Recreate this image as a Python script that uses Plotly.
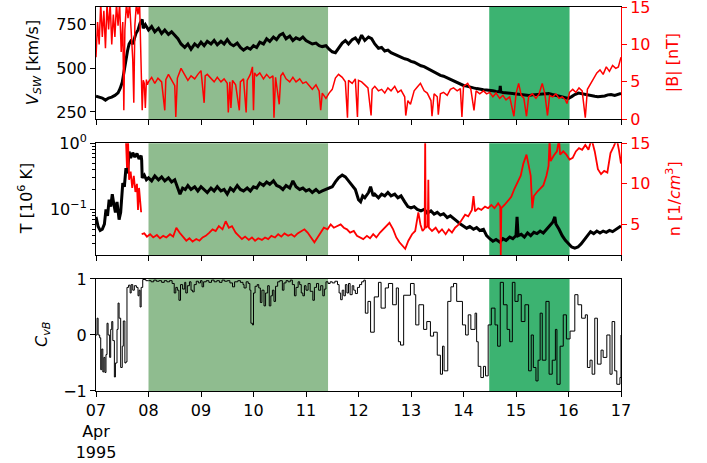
import pandas as pd
import plotly.graph_objects as go

# ---------------- data (day offset from 1995-04-07 00:00, value) ----------------
V_sw = [
(0.00,340),(0.06,335),(0.12,330),(0.18,318),(0.24,330),(0.30,335),(0.36,345),(0.42,360),(0.46,385),
(0.50,420),(0.53,480),(0.56,540),(0.60,600),(0.63,640),(0.66,655),(0.70,640),(0.73,665),(0.76,700),
(0.80,720),(0.84,760),(0.88,780),(0.90,730),(0.94,750),(1.00,720),(1.06,740),(1.12,710),(1.19,730),
(1.25,700),(1.31,720),(1.38,695),(1.44,710),(1.50,690),(1.56,670),(1.62,640),(1.69,620),(1.75,640),
(1.81,610),(1.88,640),(1.94,625),(2.00,650),(2.06,630),(2.12,655),(2.19,640),(2.25,660),(2.31,635),
(2.38,655),(2.44,640),(2.50,665),(2.56,640),(2.62,630),(2.69,645),(2.75,620),(2.81,605),(2.88,620),
(2.94,610),(3.00,630),(3.06,620),(3.12,650),(3.19,640),(3.25,670),(3.31,655),(3.38,680),(3.44,665),
(3.50,690),(3.56,700),(3.62,670),(3.69,685),(3.75,660),(3.81,675),(3.88,665),(3.94,680),(4.00,660),
(4.06,650),(4.12,640),(4.19,645),(4.25,630),(4.31,625),(4.38,630),(4.44,610),(4.50,595),(4.56,590),
(4.62,615),(4.69,645),(4.75,660),(4.81,640),(4.88,665),(4.94,675),(5.00,650),(5.06,690),(5.12,660),
(5.19,680),(5.25,670),(5.31,640),(5.38,615),(5.44,620),(5.50,600),(5.56,605),(5.62,590),(5.69,580),
(5.75,570),(5.81,565),(5.88,555),(5.94,550),(6.00,540),(6.06,535),(6.12,525),(6.19,515),(6.25,510),
(6.31,500),(6.38,490),(6.44,480),(6.50,470),(6.56,460),(6.62,455),(6.69,445),(6.75,435),(6.81,425),
(6.88,415),(6.94,410),(7.00,402),(7.06,398),(7.12,392),(7.19,388),(7.25,384),(7.31,380),(7.38,377),
(7.44,376),(7.50,376),(7.56,372),(7.62,368),(7.69,365),(7.70,400),(7.71,365),(7.75,362),(7.81,360),
(7.88,356),(7.94,352),(8.00,350),(8.06,348),(8.12,346),(8.19,346),(8.25,345),(8.31,348),(8.38,350),
(8.44,350),(8.50,352),(8.56,352),(8.62,356),(8.69,350),(8.75,345),(8.81,340),(8.88,335),(8.94,330),
(9.00,328),(9.06,338),(9.12,350),(9.19,358),(9.25,354),(9.31,350),(9.38,346),(9.44,342),(9.50,340),
(9.56,338),(9.62,338),(9.69,342),(9.75,348),(9.81,350),(9.88,345),(9.94,352),(10.0,356)]

B_mag = [
(0.00,8.3),(0.03,13),(0.06,10),(0.09,15.5),(0.12,11),(0.15,14.5),(0.18,9.5),(0.21,15.5),(0.24,12),
(0.27,15.5),(0.30,10),(0.33,14),(0.36,11),(0.39,15.5),(0.42,12.5),(0.45,15.5),(0.48,9),(0.51,13),
(0.53,1.2),(0.55,12),(0.58,15.5),(0.61,13.5),(0.64,15.5),(0.67,11),(0.70,8),(0.72,2.2),(0.74,12.5),
(0.77,15.5),(0.80,14),(0.83,15.5),(0.85,10),(0.87,5.5),(0.88,1.2),(0.90,5.2),(0.92,4.8),(0.94,1.5),
(0.96,5.3),(0.98,4.6),(1.00,5.0),(1.06,5.6),(1.12,4.8),(1.18,5.5),(1.25,5.0),(1.31,1.2),(1.33,5.3),
(1.38,6.0),(1.44,5.2),(1.50,4.5),(1.52,0.3),(1.55,5.5),(1.62,6.8),(1.68,6.0),(1.75,5.2),(1.81,5.8),
(1.88,5.4),(1.94,6.0),(2.00,6.5),(2.06,2.2),(2.08,5.8),(2.12,6.0),(2.19,5.4),(2.25,5.0),(2.31,5.6),
(2.38,5.0),(2.44,5.4),(2.50,4.8),(2.52,0.9),(2.55,5.0),(2.57,1.5),(2.60,5.2),(2.66,4.6),(2.73,1.2),
(2.75,5.0),(2.81,5.4),(2.86,0.9),(2.88,5.2),(2.94,6.0),(2.98,7.0),(3.00,1.2),(3.02,6.2),(3.06,5.8),
(3.12,6.2),(3.19,5.4),(3.25,6.0),(3.31,5.5),(3.37,5.8),(3.39,0.2),(3.42,5.6),(3.49,2.0),(3.52,5.8),
(3.56,6.2),(3.62,5.4),(3.69,5.0),(3.75,5.6),(3.81,5.0),(3.88,5.4),(3.94,4.8),(4.00,5.0),(4.06,4.5),
(4.12,4.0),(4.19,4.6),(4.25,3.8),(4.28,1.2),(4.31,3.5),(4.38,2.8),(4.44,3.5),(4.50,4.0),(4.56,5.5),
(4.62,6.0),(4.69,5.6),(4.75,5.0),(4.79,0.2),(4.81,5.2),(4.88,4.8),(4.94,5.4),(4.98,0.3),(5.00,5.2),
(5.06,5.0),(5.12,4.6),(5.18,4.2),(5.24,0.5),(5.26,4.0),(5.31,4.4),(5.38,3.8),(5.44,4.0),(5.50,3.5),
(5.56,4.2),(5.62,3.8),(5.69,4.4),(5.75,3.6),(5.81,3.9),(5.88,3.0),(5.90,0.5),(5.94,2.5),(5.99,2.0),
(6.06,3.8),(6.12,4.3),(6.18,4.8),(6.25,3.8),(6.31,3.5),(6.38,2.5),(6.40,0.4),(6.44,3.4),(6.50,3.0),
(6.52,0.6),(6.56,3.4),(6.62,3.6),(6.69,3.2),(6.75,4.0),(6.81,4.2),(6.88,3.8),(6.94,4.1),(6.97,0.3),
(7.00,4.4),(7.08,4.8),(7.14,4.0),(7.20,1.2),(7.24,3.8),(7.31,3.4),(7.38,3.8),(7.44,3.4),(7.50,3.6),
(7.56,3.0),(7.62,3.5),(7.69,2.8),(7.75,3.2),(7.81,2.6),(7.88,3.0),(7.96,0.4),(8.00,3.4),(8.05,4.8),
(8.10,3.2),(8.15,2.8),(8.20,0.4),(8.24,3.0),(8.31,3.4),(8.38,2.8),(8.44,3.4),(8.50,4.8),(8.55,3.4),
(8.60,0.5),(8.64,3.2),(8.70,3.0),(8.76,3.4),(8.82,2.8),(8.88,3.0),(8.94,2.6),(8.97,2.1),(9.02,3.6),
(9.08,4.0),(9.14,3.6),(9.20,4.2),(9.26,3.8),(9.32,0.2),(9.36,4.0),(9.42,4.8),(9.48,5.6),(9.54,6.2),
(9.60,6.6),(9.66,6.0),(9.72,7.0),(9.78,6.4),(9.84,7.2),(9.90,6.8),(9.95,7.0),(10.0,8.3)]

T_p = [
(0.00,0.077),(0.04,0.055),(0.08,0.048),(0.12,0.05),(0.16,0.06),(0.19,0.1),(0.22,0.08),(0.25,0.14),
(0.28,0.11),(0.31,0.17),(0.34,0.12),(0.37,0.09),(0.40,0.13),(0.44,0.07),(0.47,0.09),(0.51,0.25),
(0.54,0.22),(0.57,0.42),(0.60,0.35),(0.63,0.75),(0.66,0.6),(0.70,0.72),(0.74,0.62),(0.78,0.7),
(0.82,0.58),(0.86,0.65),(0.87,0.55),(0.88,0.3),(0.92,0.33),(0.96,0.28),(1.00,0.3),(1.06,0.27),
(1.12,0.32),(1.19,0.28),(1.25,0.31),(1.31,0.27),(1.38,0.3),(1.44,0.26),(1.50,0.28),(1.56,0.2),
(1.60,0.17),(1.65,0.21),(1.70,0.2),(1.75,0.23),(1.81,0.2),(1.88,0.22),(1.94,0.19),(2.00,0.22),
(2.06,0.2),(2.12,0.18),(2.19,0.21),(2.25,0.19),(2.31,0.22),(2.38,0.19),(2.44,0.2),(2.50,0.17),
(2.56,0.21),(2.62,0.19),(2.69,0.23),(2.75,0.2),(2.81,0.19),(2.88,0.21),(2.94,0.19),(3.00,0.22),
(3.06,0.21),(3.12,0.25),(3.19,0.23),(3.25,0.26),(3.31,0.24),(3.38,0.27),(3.44,0.23),(3.50,0.22),
(3.56,0.2),(3.62,0.23),(3.69,0.21),(3.75,0.27),(3.81,0.22),(3.88,0.2),(3.94,0.21),(4.00,0.19),
(4.06,0.2),(4.12,0.18),(4.19,0.2),(4.25,0.18),(4.31,0.19),(4.38,0.2),(4.44,0.21),(4.50,0.22),
(4.56,0.26),(4.62,0.3),(4.69,0.33),(4.75,0.31),(4.81,0.27),(4.88,0.23),(4.94,0.2),(5.00,0.14),
(5.04,0.13),(5.08,0.16),(5.12,0.15),(5.19,0.18),(5.23,0.22),(5.28,0.16),(5.31,0.17),(5.38,0.15),
(5.44,0.17),(5.50,0.16),(5.56,0.18),(5.62,0.16),(5.69,0.17),(5.75,0.15),(5.81,0.16),(5.88,0.13),
(5.94,0.11),(6.00,0.105),(6.06,0.11),(6.12,0.1),(6.19,0.095),(6.25,0.1),(6.31,0.088),(6.38,0.095),
(6.44,0.085),(6.50,0.09),(6.56,0.082),(6.62,0.086),(6.69,0.075),(6.75,0.08),(6.81,0.072),(6.88,0.066),
(6.94,0.06),(7.00,0.055),(7.06,0.052),(7.12,0.055),(7.19,0.05),(7.25,0.053),(7.31,0.048),(7.38,0.05),
(7.44,0.04),(7.50,0.036),(7.56,0.033),(7.62,0.035),(7.69,0.032),(7.75,0.036),(7.81,0.034),(7.88,0.038),
(7.94,0.036),(8.00,0.04),(8.02,0.077),(8.04,0.04),(8.10,0.042),(8.16,0.038),(8.22,0.044),(8.28,0.04),
(8.34,0.045),(8.40,0.043),(8.46,0.047),(8.52,0.044),(8.58,0.05),(8.64,0.058),(8.70,0.064),(8.74,0.077),
(8.76,0.06),(8.82,0.05),(8.88,0.04),(8.94,0.034),(9.00,0.03),(9.06,0.027),(9.12,0.026),(9.18,0.027),
(9.24,0.03),(9.30,0.035),(9.36,0.04),(9.42,0.046),(9.48,0.043),(9.54,0.047),(9.60,0.044),(9.66,0.047),
(9.72,0.045),(9.78,0.048),(9.84,0.046),(9.90,0.05),(9.96,0.054),(10.0,0.056)]

n_p = [
(0.57,15.5),(0.59,12),(0.61,15.5),(0.63,10.5),(0.66,11.5),(0.69,9.5),(0.72,11),(0.75,9),(0.78,10),
(0.80,6.8),(0.82,9.5),(0.84,8),(0.86,6.5),(0.865,None),
(0.87,3.8),(0.92,3.9),(0.97,3.5),(1.03,3.8),(1.09,3.4),(1.16,3.7),(1.22,3.3),(1.28,3.6),(1.34,3.4),
(1.41,3.8),(1.47,3.5),(1.53,4.6),(1.59,4.0),(1.66,3.4),(1.72,3.0),(1.78,3.3),(1.84,2.9),(1.91,3.2),
(1.97,3.0),(2.03,3.4),(2.09,3.6),(2.16,4.0),(2.22,4.4),(2.28,4.2),(2.34,4.8),(2.41,4.4),(2.47,5.4),
(2.53,4.6),(2.59,4.8),(2.66,4.0),(2.72,3.6),(2.78,3.2),(2.84,3.5),(2.91,3.1),(2.97,3.4),(3.03,3.0),
(3.09,3.3),(3.16,3.1),(3.22,3.4),(3.28,3.2),(3.34,3.6),(3.41,3.4),(3.47,3.8),(3.53,3.5),(3.59,3.9),
(3.66,3.6),(3.72,3.8),(3.78,3.5),(3.84,3.9),(3.91,4.2),(3.97,4.4),(4.03,4.0),(4.09,3.4),(4.16,2.8),
(4.22,3.4),(4.28,4.0),(4.34,4.6),(4.41,4.4),(4.47,5.0),(4.53,4.6),(4.59,4.8),(4.66,5.0),(4.72,4.6),
(4.78,4.4),(4.84,4.0),(4.91,4.2),(4.97,3.6),(5.03,3.4),(5.09,3.2),(5.16,3.6),(5.22,3.3),(5.28,3.8),
(5.34,3.4),(5.41,4.0),(5.47,4.4),(5.53,4.8),(5.59,5.2),(5.66,4.4),(5.72,3.4),(5.78,2.8),(5.84,2.3),
(5.89,2.0),(5.95,3.0),(6.02,3.8),(6.08,4.2),(6.14,6.5),(6.18,5.0),(6.22,4.2),(6.26,4.5),(6.27,15.5),
(6.28,4.6),(6.32,4.8),(6.33,10.5),(6.34,4.6),(6.40,4.2),(6.47,4.6),(6.53,4.0),(6.59,4.4),(6.66,3.8),
(6.72,4.4),(6.78,4.0),(6.84,4.6),(6.91,5.0),(6.97,5.6),(7.03,6.2),(7.09,6.0),(7.16,6.8),(7.19,8.5),
(7.22,6.6),(7.28,7.0),(7.34,6.8),(7.41,7.2),(7.47,7.0),(7.53,7.4),(7.59,7.0),(7.66,7.6),(7.70,7.2),
(7.71,1.2),(7.72,7.0),(7.78,7.4),(7.84,7.8),(7.91,8.4),(7.97,9.4),(8.03,10.2),(8.09,11.0),(8.14,12.5),
(8.20,13.6),(8.25,12.0),(8.28,11.0),(8.31,7.0),(8.34,8.5),(8.40,9.0),(8.46,9.4),(8.52,9.8),(8.58,11.0),
(8.62,12.2),(8.64,15.5),(8.66,12.8),(8.72,13.5),(8.78,14.0),(8.82,15.5),(8.84,13.6),(8.90,14.0),
(8.96,13.6),(9.02,13.0),(9.08,13.2),(9.14,14.0),(9.20,14.4),(9.26,14.2),(9.32,14.8),(9.38,14.2),
(9.44,15.5),(9.50,14.0),(9.56,11.8),(9.62,11.2),(9.68,11.6),(9.74,11.4),(9.80,13.8),(9.86,14.6),
(9.92,15.5),(9.96,14.2),(10.0,12.5)]

C_vB = [
(0.00,0.0),(0.02,0.3),(0.04,0.0),(0.07,-0.05),(0.09,-0.62),(0.11,-0.25),(0.13,-0.66),(0.15,-0.4),
(0.17,-0.67),(0.19,-0.35),(0.21,0.21),(0.23,0.0),(0.26,-0.4),(0.28,0.1),(0.30,0.24),(0.32,-0.1),
(0.35,-0.75),(0.37,-0.5),(0.40,0.1),(0.42,0.57),(0.44,0.3),(0.47,-0.58),(0.50,-0.2),(0.52,0.25),
(0.55,-0.5),(0.57,-0.48),(0.59,0.85),(0.62,0.89),(0.65,0.75),(0.67,0.9),(0.70,0.8),(0.73,0.88),
(0.77,0.85),(0.80,0.7),(0.82,0.8),(0.84,0.5),(0.86,0.85),(0.89,0.99),(0.95,0.97),(1.00,0.97),
(1.05,0.95),(1.10,0.98),(1.15,0.96),(1.20,0.97),(1.25,0.94),(1.30,0.97),(1.35,0.95),(1.40,0.97),
(1.45,0.92),(1.49,0.75),(1.52,0.85),(1.55,0.8),(1.58,0.62),(1.61,0.9),(1.65,0.82),(1.69,0.94),
(1.71,0.75),(1.74,0.88),(1.78,0.95),(1.81,0.8),(1.84,0.77),(1.87,0.9),(1.91,0.96),(1.95,0.93),
(1.99,0.97),(2.02,0.86),(2.05,0.95),(2.10,0.97),(2.15,0.94),(2.20,0.98),(2.25,0.95),(2.30,0.97),
(2.35,0.94),(2.40,0.98),(2.45,0.96),(2.50,0.97),(2.55,0.93),(2.60,0.86),(2.64,0.95),(2.70,0.97),
(2.75,0.94),(2.80,0.9),(2.82,0.84),(2.86,0.95),(2.90,0.92),(2.93,0.8),(2.95,0.21),(2.98,0.18),
(3.00,0.75),(3.03,0.87),(3.07,0.9),(3.10,0.84),(3.13,0.58),(3.16,0.8),(3.20,0.52),(3.23,0.75),
(3.27,0.88),(3.30,0.52),(3.33,0.7),(3.36,0.8),(3.39,0.6),(3.42,0.87),(3.46,0.95),(3.50,0.97),
(3.55,0.8),(3.58,0.93),(3.62,0.97),(3.66,0.95),(3.70,0.98),(3.74,0.9),(3.78,0.7),(3.81,0.85),
(3.85,0.95),(3.88,0.9),(3.91,0.75),(3.94,0.7),(3.97,0.88),(4.00,0.8),(4.04,0.92),(4.08,0.78),
(4.13,0.62),(4.16,0.85),(4.20,0.92),(4.24,0.8),(4.28,0.88),(4.32,0.7),(4.35,0.82),(4.38,0.95),
(4.42,0.92),(4.46,0.95),(4.50,0.93),(4.55,0.96),(4.60,0.9),(4.63,0.75),(4.66,0.63),(4.69,0.8),
(4.72,0.7),(4.75,0.9),(4.78,0.75),(4.81,0.92),(4.84,0.72),(4.88,0.88),(4.91,0.8),(4.94,0.74),
(4.98,0.85),(5.02,0.9),(5.06,0.95),(5.10,0.98),(5.13,0.39),(5.18,0.6),(5.23,0.05),(5.30,0.68),
(5.38,0.94),(5.43,0.48),(5.51,0.84),(5.57,0.92),(5.65,0.54),(5.72,0.84),(5.76,-0.12),(5.80,-0.18),
(5.86,0.71),(5.99,0.92),(6.06,0.72),(6.09,0.18),(6.15,0.54),(6.24,0.1),(6.30,0.24),(6.37,-0.02),
(6.43,0.05),(6.50,-0.36),(6.56,-0.7),(6.60,-0.2),(6.63,-0.64),(6.70,0.6),(6.76,0.86),(6.81,0.92),
(6.87,0.6),(6.98,0.18),(7.04,0.0),(7.09,0.36),(7.14,0.1),(7.22,0.39),(7.25,-0.12),(7.28,-0.56),
(7.33,-0.76),(7.38,-0.56),(7.42,-0.73),(7.47,0.18),(7.53,0.48),(7.60,0.18),(7.65,-0.2),(7.70,0.94),
(7.76,0.54),(7.83,0.1),(7.88,-0.12),(7.93,0.94),(7.98,0.6),(8.04,0.72),(8.10,0.24),(8.17,0.54),
(8.24,-0.64),(8.29,0.0),(8.33,-0.58),(8.38,-0.82),(8.42,-0.45),(8.46,0.39),(8.50,-0.45),(8.57,0.6),
(8.63,-0.7),(8.69,-0.45),(8.75,0.1),(8.78,-0.88),(8.84,-0.2),(8.90,0.36),(8.96,-0.07),(9.03,0.07),
(9.12,0.72),(9.18,0.54),(9.25,0.3),(9.32,0.36),(9.36,-0.58),(9.41,-0.45),(9.45,-0.7),(9.50,0.3),
(9.55,-0.52),(9.62,-0.27),(9.66,-0.4),(9.73,0.0),(9.79,-0.7),(9.83,0.24),(9.88,-0.64),(9.92,-0.88),
(9.98,-0.76),(10.0,0.0)]

shade_light = (1.0, 4.42)    # days
shade_dark = (7.49, 9.02)
day_labels = ['07<br>Apr<br>1995', '08', '09', '10', '11', '12', '13', '14', '15', '16', '17']

# ---------------- helpers ----------------
base = pd.Timestamp('1995-04-07')
def tx(days):
    return [base + pd.Timedelta(days=d) for d in days]
def split(pairs):
    d = [p[0] for p in pairs]
    v = [p[1] for p in pairs]
    return tx(d), v

FONT = 'DejaVu Sans'
FS = 16
RED = '#ff0000'

fig = go.Figure()
x, y = split(V_sw)
fig.add_trace(go.Scatter(x=x, y=y, mode='lines', line=dict(color='black', width=3), xaxis='x', yaxis='y'))
x, y = split(B_mag)
fig.add_trace(go.Scatter(x=x, y=y, mode='lines', line=dict(color=RED, width=1.5), xaxis='x', yaxis='y2'))
x, y = split(T_p)
fig.add_trace(go.Scatter(x=x, y=y, mode='lines', line=dict(color='black', width=3), xaxis='x2', yaxis='y3'))
x, y = split(n_p)
fig.add_trace(go.Scatter(x=x, y=y, mode='lines', line=dict(color=RED, width=1.8), xaxis='x2', yaxis='y4', connectgaps=False))
x, y = split(C_vB)
fig.add_trace(go.Scatter(x=x, y=y, mode='lines', line=dict(color='black', width=1, shape='hv'), xaxis='x3', yaxis='y5'))

# shading
shapes = []
for xr, yr in [('x', 'y domain'), ('x2', 'y3 domain'), ('x3', 'y5 domain')]:
    for (a, b), col in [(shade_light, '#8fbc8f'), (shade_dark, '#3cb371')]:
        shapes.append(dict(type='rect', xref=xr, yref=yr, x0=tx([a])[0], x1=tx([b])[0], y0=0, y1=1,
                           fillcolor=col, line=dict(width=0), layer='below'))

xticks = tx(range(11))
xcommon = dict(type='date', range=[base, base + pd.Timedelta(days=10)], tickvals=xticks, ticktext=day_labels,
               ticks='outside', ticklen=5, tickwidth=1, tickcolor='black', showline=True, linecolor='black',
               linewidth=1, mirror=True, showgrid=False, zeroline=False, automargin=False,
               ticklabeloverflow='allow', tickfont=dict(family=FONT, size=FS, color='black'))
ycommon = dict(ticks='outside', ticklen=5, tickwidth=1, tickcolor='black', showline=True, linecolor='black',
               linewidth=1, showgrid=False, zeroline=False, automargin=False, ticklabeloverflow='allow',
               tickfont=dict(family=FONT, size=FS, color='black'))
rcommon = dict(ticks='outside', ticklen=5, tickwidth=1, tickcolor=RED, showline=True, linecolor=RED,
               linewidth=1, showgrid=False, zeroline=False, side='right', automargin=False,
               ticklabeloverflow='allow', tickfont=dict(family=FONT, size=FS, color=RED))

D1 = [0.7076, 1.0]
D2 = [0.3542, 0.6451]
D3 = [0.0, 0.2917]

minor_vals = [0.03, 0.04, 0.05, 0.06, 0.07, 0.08, 0.09, 0.2, 0.3, 0.4, 0.5, 0.6, 0.7, 0.8, 0.9]

fig.update_layout(
    width=707, height=463, margin=dict(l=96, r=86, t=7, b=72, autoexpand=False),
    paper_bgcolor='white', plot_bgcolor='white', showlegend=False,
    font=dict(family=FONT, size=FS, color='black'),
    shapes=shapes,
    xaxis=dict(xcommon, domain=[0, 1], anchor='y', showticklabels=False),
    xaxis2=dict(xcommon, domain=[0, 1], anchor='y3', showticklabels=False),
    xaxis3=dict(xcommon, domain=[0, 1], anchor='y5', showticklabels=True),
    yaxis=dict(ycommon, domain=D1, anchor='x', range=[208, 852], tickvals=[250, 500, 750]),
    yaxis2=dict(rcommon, overlaying='y', anchor='x', range=[0, 15.0001], tickvals=[0, 5, 10, 15]),
    yaxis3=dict(ycommon, domain=D2, anchor='x2', type='log', range=[-1.69, 0.0001], tickvals=[0.1, 1],
                ticktext=['10<sup>\u22121</sup>', '10<sup>0</sup>'],
                minor=dict(tickvals=minor_vals, ticks='outside', ticklen=3, tickcolor='black', tickwidth=1)),
    yaxis4=dict(rcommon, overlaying='y3', anchor='x2', range=[1.24, 15.0001], tickvals=[5, 10, 15]),
    yaxis5=dict(ycommon, domain=D3, anchor='x3', range=[-1.0001, 1.0001], tickvals=[-1, 0, 1],
                ticktext=['\u22121', '0', '1'], mirror=True),
)

ann = [
    dict(text='<i>V</i><sub><i>SW</i></sub> [km/s]', x=0, xshift=-63, y=(D1[0] + D1[1]) / 2, color='black'),
    dict(text='T [10<sup>6</sup> K]', x=0, xshift=-71, y=(D2[0] + D2[1]) / 2, color='black'),
    dict(text='<i>C</i><sub><i>vB</i></sub>', x=0, xshift=-53, y=(D3[0] + D3[1]) / 2, color='black'),
    dict(text='|B| [nT]', x=1, xshift=51, y=(D1[0] + D1[1]) / 2, color=RED),
    dict(text='n [1/<i>cm</i><sup>3</sup>]', x=1, xshift=52, y=(D2[0] + D2[1]) / 2, color=RED),
]
for a in ann:
    fig.add_annotation(text=a['text'], xref='paper', yref='paper', x=a['x'], y=a['y'], xshift=a['xshift'],
                       xanchor='center', yanchor='middle', textangle=-90, showarrow=False,
                       font=dict(family=FONT, size=FS, color=a['color']))

fig.write_html('out.html', config={'displayModeBar': False},
               post_script="document.body.style.margin='0';document.body.style.overflow='hidden';")
